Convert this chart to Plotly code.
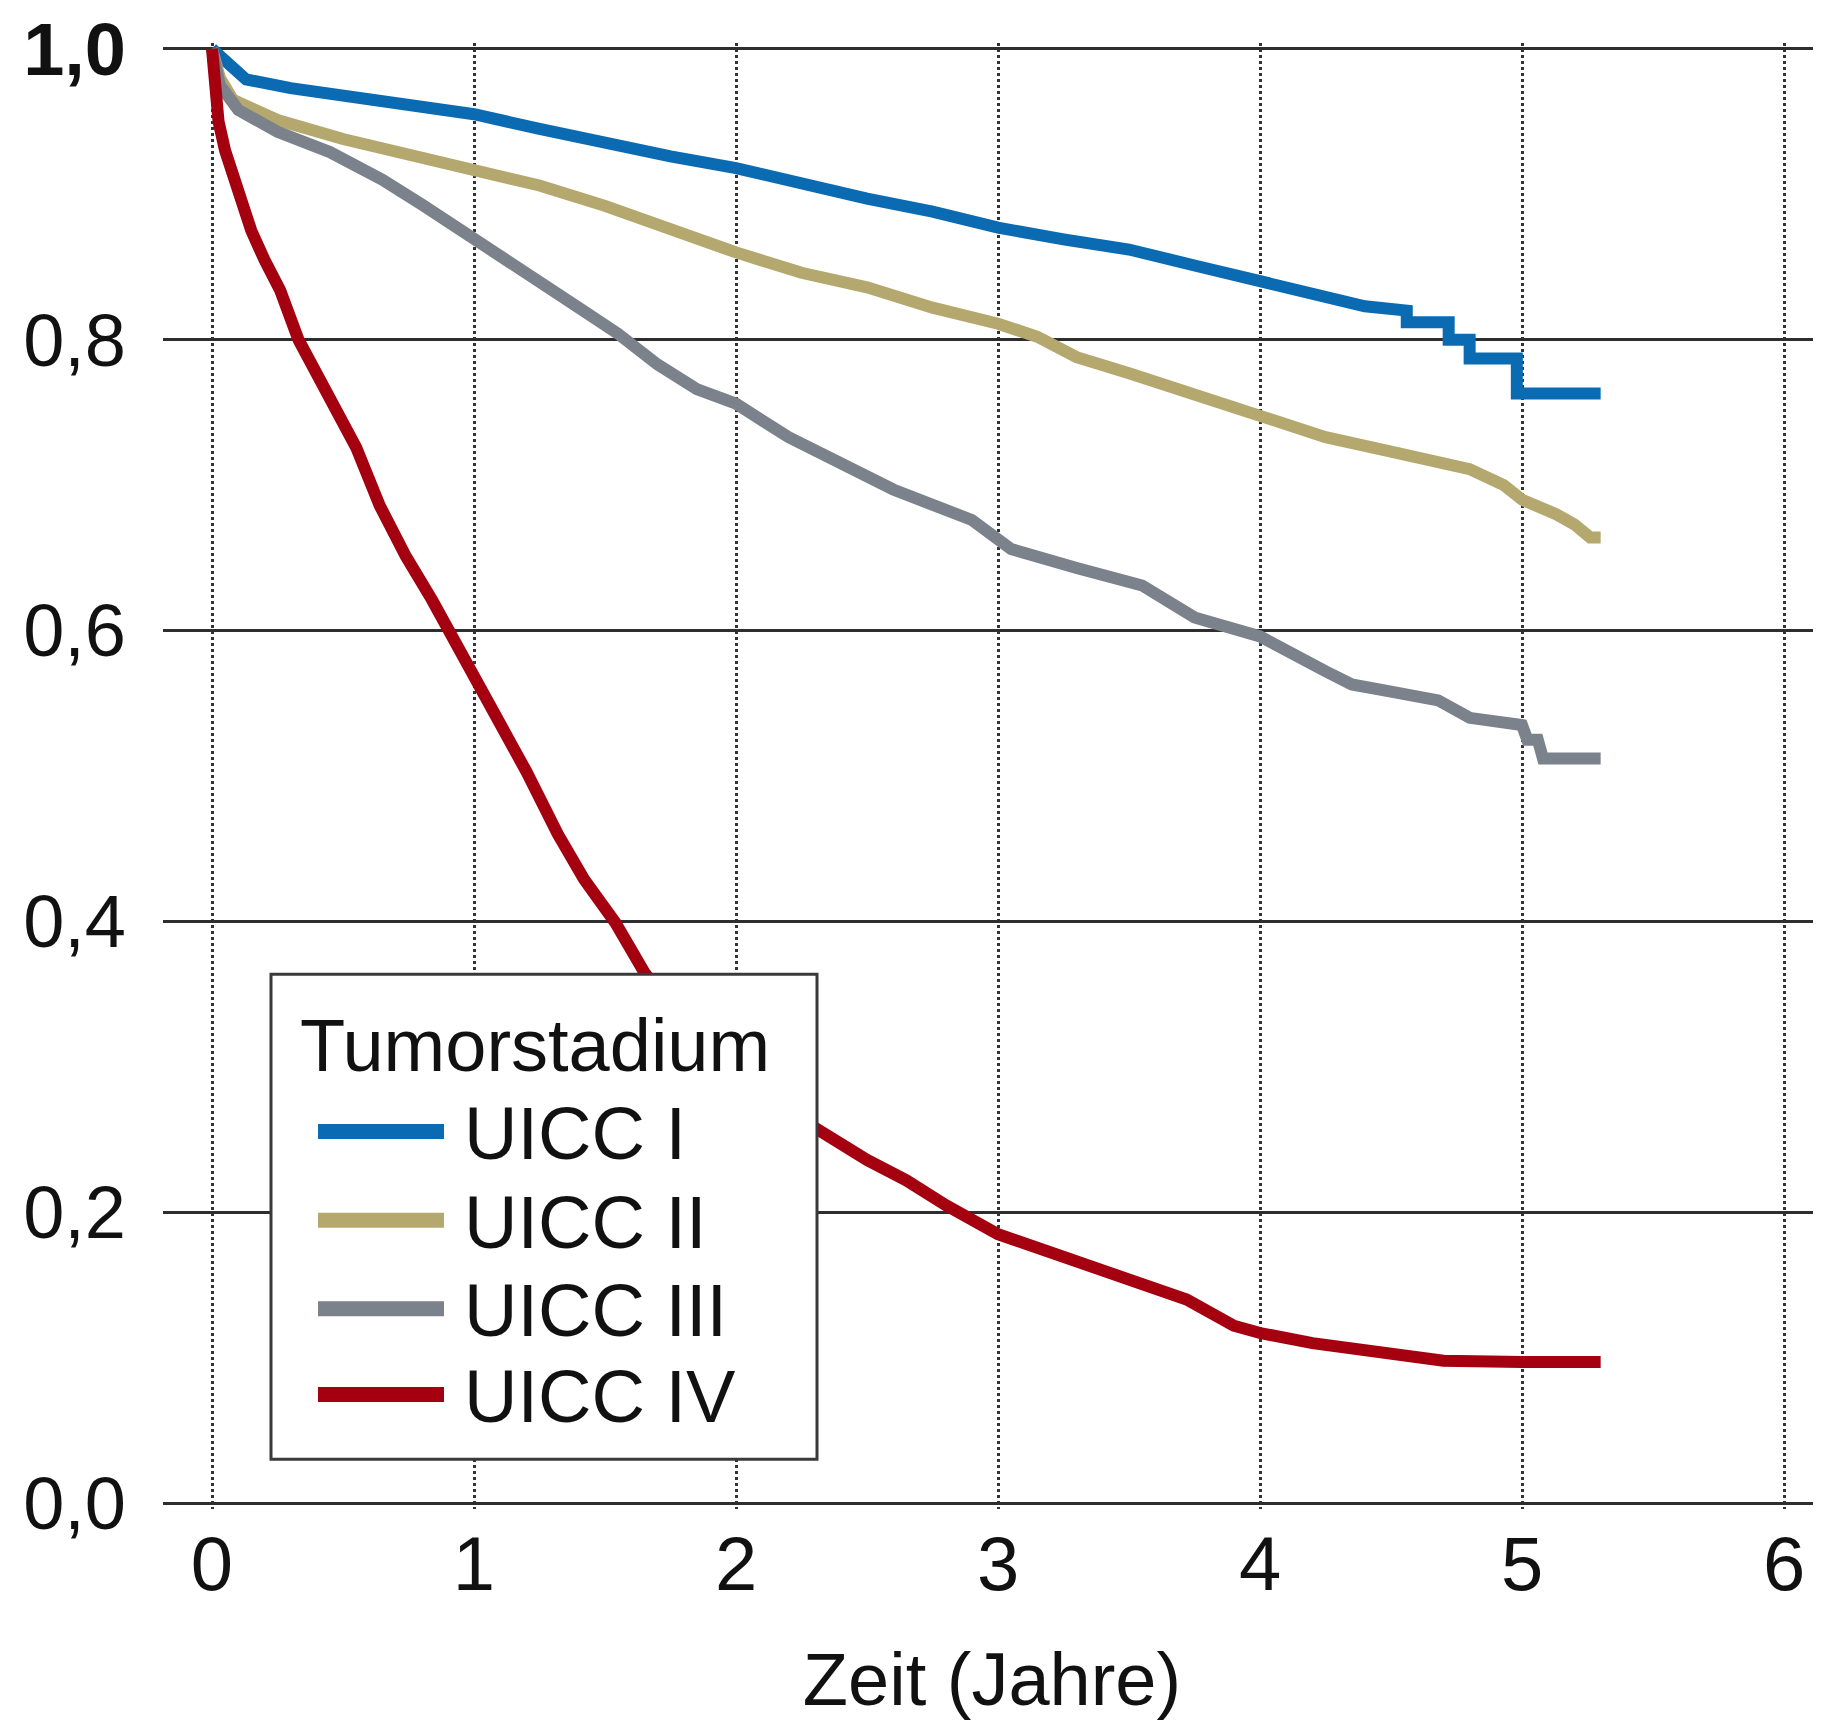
import plotly.graph_objects as go

# ---------------- data ----------------
series_names = ["UICC I", "UICC II", "UICC III", "UICC IV"]
series_colors = ["#0b6bb2", "#b4a86e", "#7b828c", "#a4000f"]

x_uicc1 = [0, 0.03, 0.08, 0.13, 0.3, 0.5, 0.75, 1.0, 1.25, 1.5, 1.75, 2.0, 2.25, 2.5, 2.75,
           3.0, 3.25, 3.5, 3.75, 4.0, 4.2, 4.4, 4.56, 4.56, 4.72, 4.72, 4.8, 4.8, 4.98, 4.98, 5.3]
y_uicc1 = [1.0, 0.995, 0.988, 0.979, 0.973, 0.968, 0.962, 0.955, 0.945, 0.935, 0.926, 0.918, 0.907,
           0.897, 0.888, 0.877, 0.869, 0.862, 0.851, 0.840, 0.830, 0.823, 0.820, 0.812, 0.812, 0.800,
           0.800, 0.787, 0.787, 0.763, 0.763]

x_uicc2 = [0, 0.03, 0.08, 0.25, 0.5, 0.75, 1.0, 1.25, 1.5, 1.75, 2.0, 2.25, 2.5, 2.75, 3.0, 3.15,
           3.3, 3.5, 3.75, 4.0, 4.25, 4.5, 4.65, 4.8, 4.93, 5.0, 5.13, 5.2, 5.26, 5.3]
y_uicc2 = [1.0, 0.98, 0.965, 0.951, 0.938, 0.928, 0.918, 0.906, 0.892, 0.875, 0.860, 0.846, 0.836,
           0.822, 0.811, 0.802, 0.788, 0.777, 0.763, 0.748, 0.733, 0.723, 0.718, 0.711, 0.700, 0.690,
           0.680, 0.673, 0.664, 0.664]

x_uicc3 = [0, 0.03, 0.1, 0.25, 0.45, 0.65, 0.8, 1.0, 1.2, 1.4, 1.55, 1.7, 1.85, 2.0, 2.2, 2.4, 2.6,
           2.9, 3.05, 3.3, 3.55, 3.75, 4.0, 4.25, 4.35, 4.5, 4.68, 4.8, 5.0, 5.02, 5.06, 5.08, 5.3]
y_uicc3 = [1.0, 0.975, 0.958, 0.943, 0.929, 0.910, 0.893, 0.870, 0.847, 0.822, 0.804, 0.783, 0.766,
           0.756, 0.733, 0.716, 0.697, 0.676, 0.656, 0.643, 0.631, 0.609, 0.596, 0.572, 0.563, 0.558,
           0.552, 0.540, 0.535, 0.525, 0.525, 0.512, 0.512]

x_uicc4 = [0, 0.01, 0.025, 0.05, 0.075, 0.1, 0.15, 0.2, 0.26, 0.33, 0.44, 0.55, 0.64, 0.74, 0.84,
           0.92, 1.0, 1.1, 1.2, 1.32, 1.42, 1.54, 1.65, 1.8, 2.0, 2.15, 2.3, 2.5, 2.65, 2.8, 3.0,
           3.15, 3.3, 3.45, 3.6, 3.72, 3.9, 4.0, 4.2, 4.45, 4.7, 5.0, 5.3]
y_uicc4 = [1.0, 0.975, 0.95, 0.93, 0.916, 0.904, 0.875, 0.855, 0.834, 0.80, 0.765, 0.726, 0.686,
           0.651, 0.621, 0.595, 0.569, 0.534, 0.503, 0.460, 0.429, 0.399, 0.365, 0.33, 0.295, 0.275,
           0.258, 0.236, 0.222, 0.205, 0.185, 0.176, 0.166, 0.157, 0.147, 0.140, 0.122, 0.117, 0.110,
           0.103, 0.098, 0.097, 0.097]

x_ticks = [0, 1, 2, 3, 4, 5, 6]
x_tick_labels = ["0", "1", "2", "3", "4", "5", "6"]
y_ticks = [0.0, 0.2, 0.4, 0.6, 0.8, 1.0]
y_tick_labels = ["0,0", "0,2", "0,4", "0,6", "0,8", "<b>1,0</b>"]

x_title = "Zeit (Jahre)"
legend_title = "Tumorstadium"

# ---------------- figure ----------------
FONT = "Liberation Sans, Arial, Helvetica, sans-serif"
xs = [x_uicc1, x_uicc2, x_uicc3, x_uicc4]
ys = [y_uicc1, y_uicc2, y_uicc3, y_uicc4]

fig = go.Figure()
for name, color, xv, yv in zip(series_names, series_colors, xs, ys):
    fig.add_trace(go.Scatter(
        x=xv, y=yv, mode="lines", name=name,
        line=dict(color=color, width=12, shape="linear"),
        showlegend=False,
    ))

PAGE_OFF = 8          # default body margin of the html page
W, H = 1813, 1713
ML, MR, MT, MB = 155, 0, 29, 212
PW, PH = W - ML - MR, H - MT - MB


def px2paper_x(px):   # px: page pixel
    return (px - PAGE_OFF - ML) / PW


def px2paper_y(py):
    return (H - MB - (py - PAGE_OFF)) / PH


shapes = []
annotations = []

# legend box (drawn above the curves)
shapes.append(dict(
    type="rect", xref="paper", yref="paper", layer="above",
    x0=px2paper_x(271), x1=px2paper_x(817), y0=px2paper_y(1459), y1=px2paper_y(972),
    fillcolor="white", line=dict(color="#3a3a3a", width=3),
))
annotations.append(dict(
    xref="paper", yref="paper", x=px2paper_x(298), y=px2paper_y(1044),
    xanchor="left", yanchor="middle", showarrow=False, text=legend_title,
    font=dict(family=FONT, size=74, color="#111"),
))
item_rows = [1130, 1219, 1308, 1394]
for name, color, row in zip(series_names, series_colors, item_rows):
    shapes.append(dict(
        type="line", xref="paper", yref="paper", layer="above",
        x0=px2paper_x(318), x1=px2paper_x(444), y0=px2paper_y(row), y1=px2paper_y(row),
        line=dict(color=color, width=15),
    ))
    annotations.append(dict(
        xref="paper", yref="paper", x=px2paper_x(462), y=px2paper_y(row + 2),
        xanchor="left", yanchor="middle", showarrow=False, text=name,
        font=dict(family=FONT, size=74, color="#111"),
    ))

fig.update_layout(
    width=W, height=H,
    margin=dict(l=ML, r=MR, t=MT, b=MB, pad=0),
    paper_bgcolor="white", plot_bgcolor="white",
    font=dict(family=FONT, size=74, color="#111"),
    shapes=shapes, annotations=annotations,
    showlegend=False,
)
fig.update_xaxes(
    range=[-0.187, 6.141], tickvals=x_ticks, ticktext=x_tick_labels,
    showgrid=True, gridcolor="#333333", gridwidth=2.5, griddash="dot",
    zeroline=False, showline=False, ticks="",
    ticklabelstandoff=4, ticklabeloverflow="allow",
    tickfont=dict(family=FONT, size=76, color="#111"),
    title=dict(text=x_title, font=dict(family=FONT, size=74, color="#111"), standoff=50),
)
fig.update_yaxes(
    range=[-0.004, 1.004], tickvals=y_ticks, ticktext=y_tick_labels,
    showgrid=True, gridcolor="#2e2e2e", gridwidth=3,
    zeroline=False, showline=False, ticks="",
    ticklabelstandoff=36, ticklabeloverflow="allow",
    tickfont=dict(family=FONT, size=74, color="#111"),
)

fig.write_html("out.html")
